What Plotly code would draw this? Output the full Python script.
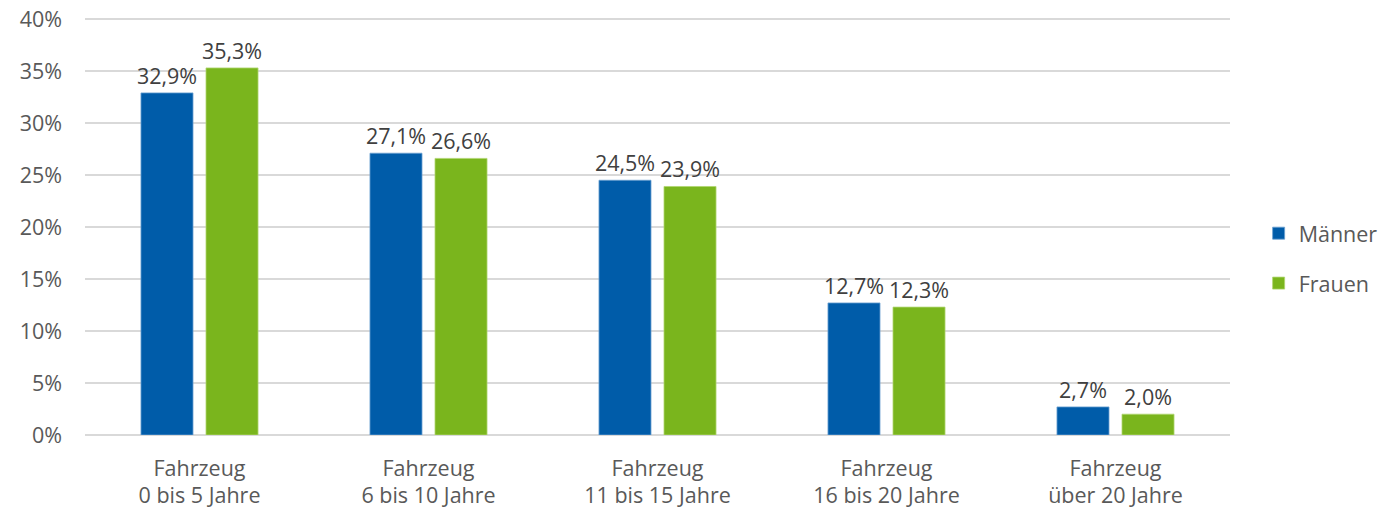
import plotly.graph_objects as go

categories = ["Fahrzeug<br>0 bis 5 Jahre", "Fahrzeug<br>6 bis 10 Jahre", "Fahrzeug<br>11 bis 15 Jahre",
              "Fahrzeug<br>16 bis 20 Jahre", "Fahrzeug<br>über 20 Jahre"]
maenner = [32.9, 27.1, 24.5, 12.7, 2.7]
frauen = [35.3, 26.6, 23.9, 12.3, 2.0]
y_tick_vals = [0, 5, 10, 15, 20, 25, 30, 35, 40]
y_tick_text = ["0%", "5%", "10%", "15%", "20%", "25%", "30%", "35%", "40%"]

font_family = "Open Sans, Liberation Sans, sans-serif"
FS = 21.5

fig = go.Figure()
fig.add_trace(go.Bar(x=categories, y=maenner, name="Männer", legendgroup="m",
                     marker=dict(color="#005CA9", line=dict(color="#6a9fd0", width=0.8)),
                     texttemplate="%{y:.1f}%", textposition="outside", cliponaxis=False,
                     constraintext="none",
                     textfont=dict(size=FS, color="#404040", family=font_family)))
fig.add_trace(go.Bar(x=categories, y=frauen, name="Frauen", legendgroup="f",
                     marker=dict(color="#7AB51D", line=dict(color="#b0d670", width=0.8)),
                     texttemplate="%{y:.1f}%", textposition="outside", cliponaxis=False,
                     constraintext="none",
                     textfont=dict(size=FS, color="#404040", family=font_family)))

fig.update_layout(
    width=1388, height=512,
    margin=dict(l=85, r=158, t=17, b=77, autoexpand=False),
    paper_bgcolor="white", plot_bgcolor="white",
    separators=",.",
    barmode="group", bargap=0.432, bargroupgap=0.2,
    font=dict(family=font_family, size=FS, color="#595959"),
    legend=dict(x=1.025, y=0.423, xanchor="left", yanchor="middle",
                font=dict(size=FS, color="#595959"), tracegroupgap=19,
                itemwidth=30),
    xaxis=dict(showgrid=False, showline=False, ticks="", automargin=False,
               ticklabelstandoff=18,
               tickfont=dict(size=FS, color="#595959")),
    yaxis=dict(range=[0, 40.2], tickmode="array", tickvals=y_tick_vals, ticktext=y_tick_text,
               showgrid=True, automargin=False, ticklabeloverflow="allow",
               gridcolor="#d9d9d9", gridwidth=1.5, zeroline=True, zerolinecolor="#d9d9d9",
               zerolinewidth=1.5, ticks="", ticklabelstandoff=22,
               tickfont=dict(size=FS, color="#595959")),
)

fig.write_html("out.html", config={"displayModeBar": False},
               post_script="document.body.style.margin='0';document.body.style.overflow='hidden';")
